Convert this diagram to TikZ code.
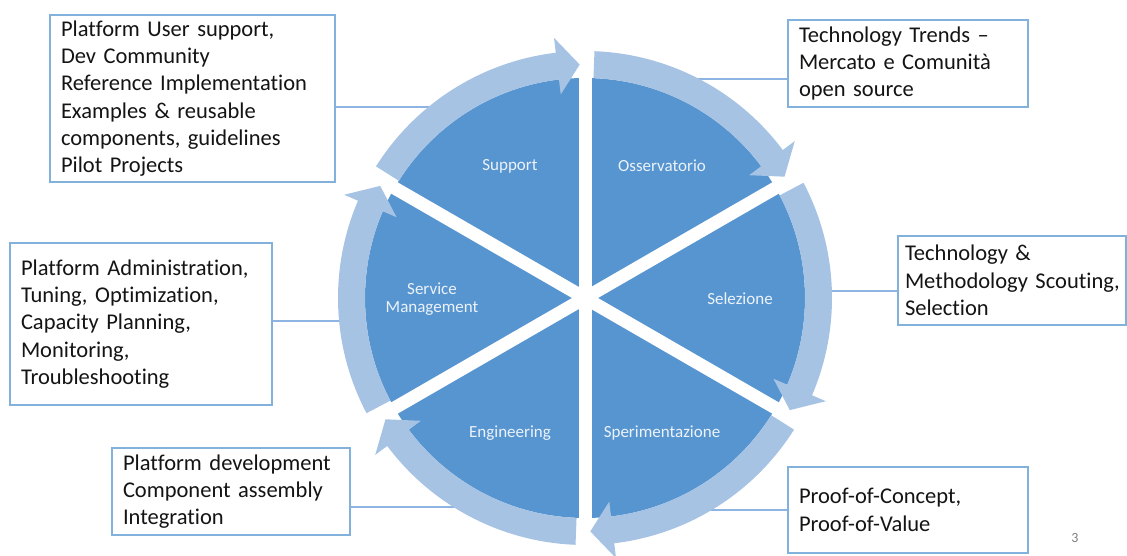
\documentclass[tikz,border=0pt]{standalone}
\usepackage{fontspec}
\newfontfamily\calib[Ligatures={NoCommon}]{Carlito}
\usetikzlibrary{calc}
\definecolor{piec}{RGB}{87,149,208}
\definecolor{ringc}{RGB}{166,195,228}
\definecolor{boxc}{RGB}{130,178,220}
\definecolor{linec}{RGB}{141,180,226}
\definecolor{txtc}{RGB}{20,20,20}
\definecolor{labc}{RGB}{236,242,250}
\newcommand\ringarrow[1]{%
  \pgfmathsetmacro\tp{#1+1.3}%
  \pgfmathsetmacro\bk{#1+6.8}%
  \pgfmathsetmacro\st{#1+60-2.2}%
  \fill[ringc] (\st:247pt) arc[start angle=\st, end angle=\bk, radius=247pt]
    -- (\bk:262pt) -- (\tp:233.5pt) -- (\bk:205pt) -- (\bk:220pt)
    arc[start angle=\bk, end angle=\st, radius=220pt] -- cycle;}
\tikzset{
  box/.style={draw=boxc, line width=1.5pt, fill=white, inner xsep=11pt, inner ysep=0pt,
    align=left, text=txtc, font=\calib\fontsize{22.5}{27.3}\selectfont},
  seglabel/.style={text=labc, align=center, font=\calib\fontsize{17}{18.5}\selectfont},
  conn/.style={draw=linec, line width=1.3pt}
}
\begin{document}
\begin{tikzpicture}[x=1pt,y=1pt]
\useasboundingbox (0,0) rectangle (1127,556);
% connector end points on the ring
\coordinate (supc) at (433,449);
\coordinate (tecc) at (693,477);
\coordinate (selc) at (805,265);
\coordinate (svcc) at (363,235);
\coordinate (engc) at (457,49);
\coordinate (pocc) at (693,46);
% boxes
\node[box, text width=263pt, minimum height=167pt] (sup) at (192.5,457.5)
  {Platform User support,\\Dev Community\\Reference Implementation\\Examples \& reusable\\components, guidelines\\Pilot Projects};
\node[box, text width=218pt, minimum height=87pt] (tech) at (908,492.5)
  {Technology Trends –\\Mercato e Comunità\\open source};
\node[box, text width=214pt, inner xsep=7pt, minimum height=89pt] (selb) at (1012,275.5)
  {Technology \&\\\mbox{Methodology Scouting,}\\Selection};
\node[box, text width=240pt, minimum height=162pt] (svc) at (141,232)
  {Platform Administration,\\Tuning, Optimization,\\Capacity Planning,\\Monitoring,\\Troubleshooting};
\node[box, text width=216pt, minimum height=87pt] (eng) at (231,64.5)
  {Platform development\\Component assembly\\Integration};
\node[box, text width=218pt, minimum height=86pt] (poc) at (908,46)
  {Proof-of-Concept,\\Proof-of-Value};
% connectors
\draw[conn] (supc -| sup.east) -- (supc);
\draw[conn] (tecc) -- (tecc -| tech.west);
\draw[conn] (selc) -- (selc -| selb.west);
\draw[conn] (svcc -| svc.east) -- (svcc);
\draw[conn] (engc -| eng.east) -- (engc);
\draw[conn] (pocc) -- (pocc -| poc.west);
% cycle
\begin{scope}[shift={(585,258)}]
  \fill[piec] (0,0) circle[radius=220pt];
  \foreach \a in {90,30,-30} {
    \draw[white, line width=13pt] (\a:221pt) -- (\a+180:221pt);
  }
  \foreach \t in {90,30,-30,-90,-150,150} { \ringarrow{\t} }
\end{scope}
% segment labels
\node[seglabel] (lsup) at (510,390) {Support};
\node[seglabel] (loss) at (662,390) {Osservatorio};
\node[seglabel] (lsvc) at (432,257) {Service\\Management};
\node[seglabel] (lsel) at (740,257) {Selezione};
\node[seglabel] (leng) at (510,123) {Engineering};
\node[seglabel] (lspe) at (662,123) {Sperimentazione};
\node[text=gray, font=\calib\fontsize{14}{16}\selectfont] (pg) at (1075,18) {3};
\end{tikzpicture}
\end{document}
